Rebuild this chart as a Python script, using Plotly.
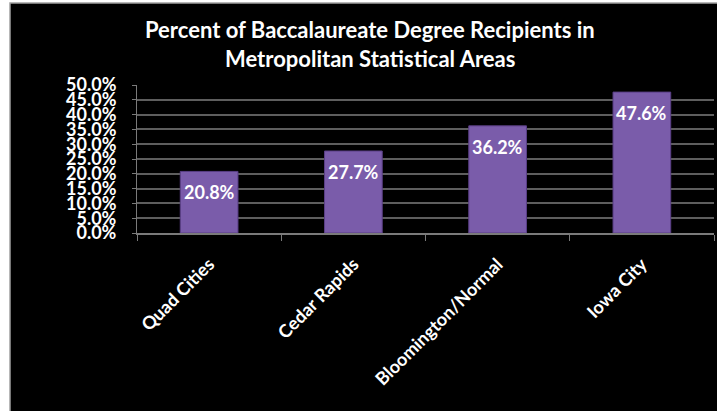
import plotly.graph_objects as go

categories = ["Quad Cities", "Cedar Rapids", "Bloomington/Normal", "Iowa City"]
values = [0.208, 0.277, 0.362, 0.476]
labels = ["20.8%", "27.7%", "36.2%", "47.6%"]
title_lines = ["Percent of Baccalaureate Degree Recipients in", "Metropolitan Statistical Areas"]

W, H = 717, 411
L, R, T, B = 137, 3, 85, 178
pw, ph = W - L - R, H - T - B

def px_x(p):
    return (p - L) / pw

def px_y(p):
    return (H - B - p) / ph

FONT = "Lato"

fig = go.Figure()
fig.add_trace(go.Bar(
    x=categories, y=values,
    marker=dict(color="#7a5caa", line=dict(color="#5a3f86", width=1)),
    hoverinfo="skip",
))

for c, v, t in zip(categories, values, labels):
    fig.add_annotation(x=c, y=v, text="<b>%s</b>" % t, showarrow=False,
                       xref="x", yref="y", yanchor="top", yshift=-8,
                       font=dict(family=FONT, size=18, color="white"))

for line, py in zip(title_lines, [29, 58]):
    fig.add_annotation(x=px_x(370), y=px_y(py), xref="paper", yref="paper",
                       xanchor="center", yanchor="middle", showarrow=False,
                       text="<b>%s</b>" % line,
                       font=dict(family=FONT, size=22, color="white"))

# black card with gray border
fig.add_shape(type="rect", xref="paper", yref="paper",
              x0=px_x(10), x1=px_x(720), y0=px_y(414), y1=px_y(3),
              fillcolor="black", line=dict(color="#a0a0a0", width=1.5), layer="below")

fig.update_layout(
    width=W, height=H,
    margin=dict(l=L, r=R, t=T, b=B),
    paper_bgcolor="white",
    plot_bgcolor="#3d3d3d",
    bargap=0.6,
    showlegend=False,
)
fig.update_yaxes(
    range=[0, 0.5], dtick=0.05, tickformat=".1%",
    showgrid=True, gridcolor="#5e5e5e", gridwidth=2,
    showline=True, linecolor="#7a7a7a", linewidth=1,
    ticks="outside", ticklen=4, tickcolor="#7a7a7a",
    ticklabelstandoff=12,
    tickfont=dict(family=FONT, size=18, color="white", weight="bold"),
    zeroline=False,
)
fig.update_xaxes(
    tickangle=-45, tickson="boundaries",
    showline=True, linecolor="#7a7a7a", linewidth=1.5,
    ticks="outside", ticklen=6, tickcolor="#7a7a7a",
    ticklabelstandoff=12,
    tickfont=dict(family=FONT, size=18, color="white", weight="bold"),
)

fig.write_html("out.html",
               config={"displayModeBar": False},
               post_script="document.body.style.margin='0';document.body.style.overflow='hidden';")
